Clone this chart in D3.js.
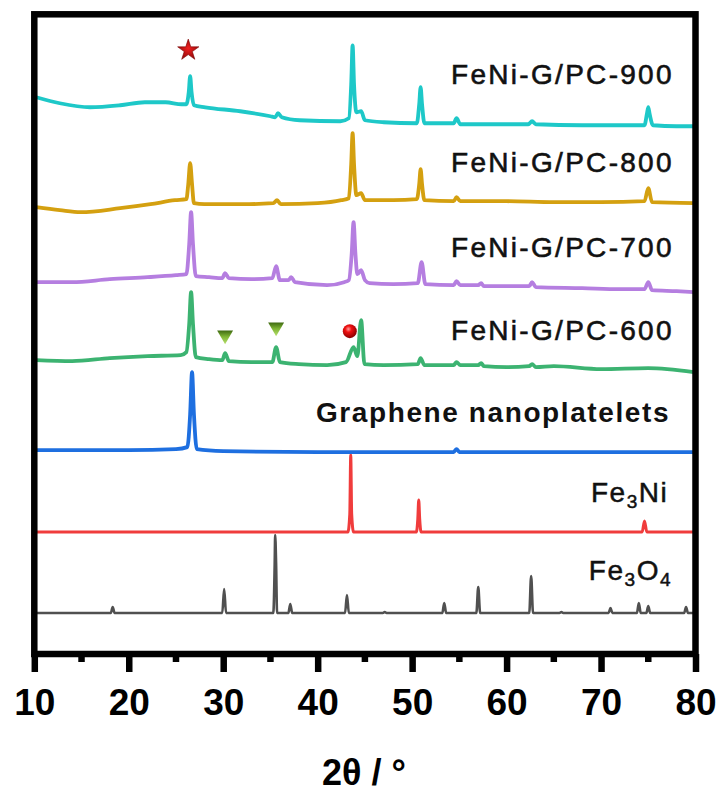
<!DOCTYPE html>
<html>
<head>
<meta charset="utf-8">
<script src="https://cdn.jsdelivr.net/npm/d3@7"></script>
<style>
  body { margin: 0; background: #fff; }
  svg { display: block; font-family: "Liberation Sans", Arial, sans-serif; }
</style>
</head>
<body>
<div id="xrd"></div>
<script>
// XRD patterns, stacked (2theta in degrees, intensity in a.u. incl. offset)
const fe3o4 = [[10.2,41],[18.1,41],[18.3,47],[18.5,41],[29.9,41],[30.1,65],[30.3,41],[35.3,41],[35.45,90],[35.5,119],[35.6,90],[35.7,41],
  [36.9,41],[37.1,50],[37.3,41],[42.9,41],[43.1,59],[43.3,41],[46.9,41],[47.1,42],[47.3,41],[53.2,41],[53.4,51],[53.6,41],
  [56.8,41],[57.0,67],[57.2,41],[62.4,41],[62.6,78],[62.8,41],[65.6,41],[65.8,42],[66.0,41],[70.8,41],[71.0,46],[71.2,41],
  [73.8,41],[74.0,51],[74.2,41],[74.8,41],[75.0,48],[75.2,41],[78.8,41],[79.0,47],[79.2,41],[79.8,41]]
const fe3ni = [[10.2,122],[43.2,122],[43.4,140],[43.5,199],[43.6,140],[43.8,122],[50.45,122],[50.6,135],[50.7,154],[50.8,135],[50.95,122],
  [74.35,122],[74.6,133],[74.85,122],[79.8,122]]
const graphene = [[10.2,204],[20,204],[25,205],[26.2,207],[26.5,240],[26.7,282],[26.9,240],[27.2,205],[30,203],[40,202],[50,202],
  [54.4,202],[54.7,205],[55.0,202],[65,202],[79.8,202]]
const pc600 = [[10.2,294],[14,293],[18,296],[22,298],[25.5,299],[26.1,302],[26.4,330],[26.6,362],[26.8,330],[27.1,297],[28.5,295],
  [29.9,294],[30.2,301],[30.6,293],[33,292],[35.2,292],[35.6,307],[36.0,292],[38,290],[41,289],[43.0,292],[43.8,307],[44.2,298],
  [44.6,334],[44.95,290],[47,289],[50.6,290],[50.9,296],[51.3,289],[54.4,289],[54.7,292],[55.1,289],[57.0,289],[57.3,291],[57.6,288],[60,287],
  [62.4,288],[62.7,290],[63.1,287],[65,288],[70,285],[75,286],[79.8,282]]
const pc700 = [[10.2,372],[14,372],[18,375],[22,377],[25,379],[26.1,380],[26.4,410],[26.6,442],[26.8,410],[27.1,378],[28.5,377],
  [29.9,376],[30.2,381],[30.6,376],[33,375],[35.2,376],[35.6,388],[36.0,374],[36.9,374],[37.2,377],[37.6,372],[41,369],
  [42.8,372],[43.3,374],[43.6,400],[43.8,432],[44.0,400],[44.2,380],[44.6,384],[45.0,374],[45.5,371],[48,370],[50.6,371],
  [51.0,392],[51.4,370],[54.4,369],[54.7,373],[55.1,369],[57.0,369],[57.3,371],[57.6,368],[60,368],[62.4,368],[62.7,372],
  [63.1,367],[68,366],[72,365],[74.6,365],[75.0,372],[75.4,364],[78,363],[79.8,362]]
const pc800 = [[10.2,447],[12.7,444],[14.9,442],[19.1,446],[22.3,450],[24.9,454],[26.1,455],[26.3,470],[26.5,491],[26.7,470],
  [26.9,451],[28,450],[32,450],[35.3,451],[35.7,454],[36.1,450],[40,451],[42.5,454],[43.3,456],[43.55,490],[43.7,521],[43.85,490],
  [44.1,459],[44.6,461],[45.0,454],[48,454],[50.5,455],[50.75,470],[50.9,485],[51.05,470],[51.3,454],[54.4,453],[54.7,457],
  [55.1,453],[60,453],[65,452],[70,452],[74.6,453],[75.0,466],[75.4,452],[79.8,451]]
const pc900 = [[10.2,557],[12.7,551],[15.9,547],[19.1,549],[21.7,552],[23.9,552],[25.6,550],[26.1,550],[26.35,562],[26.5,578],
  [26.65,562],[26.9,549],[28.1,547],[31.8,543],[35.0,538],[35.5,537],[35.8,541],[36.2,537],[38.1,534],[42.4,533],[43.3,536],
  [43.55,570],[43.7,609],[43.85,570],[44.1,542],[44.6,543],[45.0,534],[47,532],[50.5,531],[50.75,550],[50.9,567],[51.05,550],
  [51.3,531],[54.4,531],[54.7,536],[55.1,530],[58,530],[62.3,530],[62.7,533],[63.1,530],[68,529],[72,529],[74.6,529],
  [74.85,540],[75.0,547],[75.15,540],[75.5,529],[78,528],[79.8,528]]

const seriesData = [fe3o4, fe3ni, graphene, pc600, pc700, pc800, pc900]
const seriesColors = ["#505050", "#f03c3c", "#1e6fe0", "#3cb371", "#b57ee0", "#d4a010", "#1ec8c8"]
const seriesWidths = [2.6, 3, 3.8, 3.8, 3.8, 3.8, 3.8]

// labels: [text, 2theta of right end, a.u. of baseline, bold]
const labels = [
  ["FeNi-G/PC-900", 77.5, 570, false],
  ["FeNi-G/PC-800", 77.5, 482, false],
  ["FeNi-G/PC-700", 77.5, 397, false],
  ["FeNi-G/PC-600", 77.5, 314, false],
  ["Graphene nanoplatelets", 77.1, 232, true]
]
// phase markers [2theta, a.u.]
const starMarks = [[26.3, 604]]
const triMarks = [[30.2, 319], [35.6, 327]]
const ballMarks = [[43.4, 323]]

const majorTicks = [10, 20, 30, 40, 50, 60, 70, 80]
const minorTicks = [15, 25, 35, 45, 55, 65, 75]

const W = 720, H = 792
const pLeft = 34.3, pRight = 695.5, pTop = 14.3, pBottom = 654

let svg = d3.select("#xrd").append("svg")
  .attr("width", W).attr("height", H)

let defs = svg.append("defs")
let gBall = defs.append("radialGradient").attr("id", "ball")
  .attr("cx", "40%").attr("cy", "35%").attr("r", "65%")
gBall.append("stop").attr("offset", "0%").attr("stop-color", "#ff9a9a")
gBall.append("stop").attr("offset", "35%").attr("stop-color", "#f01010")
gBall.append("stop").attr("offset", "100%").attr("stop-color", "#8a0000")
let gTri = defs.append("linearGradient").attr("id", "tri")
  .attr("x1", 0).attr("y1", 0).attr("x2", 0).attr("y2", 1)
gTri.append("stop").attr("offset", "0%").attr("stop-color", "#b8e070")
gTri.append("stop").attr("offset", "55%").attr("stop-color", "#7fb534")
gTri.append("stop").attr("offset", "100%").attr("stop-color", "#3f6a12")
let gStar = defs.append("radialGradient").attr("id", "star")
  .attr("cx", "50%").attr("cy", "45%").attr("r", "60%")
gStar.append("stop").attr("offset", "0%").attr("stop-color", "#f02020")
gStar.append("stop").attr("offset", "100%").attr("stop-color", "#8c0808")

let x = d3.scaleLinear().domain([10, 80]).range([pLeft, pRight])
let y = d3.scaleLinear().domain([0, 640]).range([pBottom, pTop])

let line = d3.line()
  .curve(d3.curveMonotoneX)
  .x(d => x(d[0]))
  .y(d => y(d[1]))

svg.append("g")
  .selectAll("path")
  .data(seriesData)
  .join("path")
  .attr("d", line)
  .attr("fill", "none")
  .attr("stroke", (d, i) => seriesColors[i])
  .attr("stroke-width", (d, i) => seriesWidths[i])
  .attr("stroke-linejoin", "round")

// frame
svg.append("rect")
  .attr("x", pLeft).attr("y", pTop)
  .attr("width", pRight - pLeft).attr("height", pBottom - pTop)
  .attr("fill", "none").attr("stroke", "#000").attr("stroke-width", 6.5)

// x axis
let xAxis = svg.append("g")
  .attr("transform", "translate(0," + pBottom + ")")
  .call(d3.axisBottom(x).tickValues(majorTicks).tickSize(18).tickFormat(d3.format("d")))
xAxis.select(".domain").remove()
xAxis.selectAll(".tick line").attr("stroke", "#000").attr("stroke-width", 6.5)
xAxis.selectAll(".tick text")
  .attr("y", 61).attr("dy", 0)
  .attr("fill", "#000")
  .style("font-size", "37px").style("font-weight", "bold")
  .style("font-family", "'Liberation Sans', Arial, sans-serif")

svg.append("g")
  .attr("transform", "translate(0," + pBottom + ")")
  .selectAll("line")
  .data(minorTicks)
  .join("line")
  .attr("x1", d => x(d)).attr("x2", d => x(d))
  .attr("y1", 0).attr("y2", 8)
  .attr("stroke", "#000").attr("stroke-width", 6.5)

svg.append("text")
  .attr("x", 364).attr("y", 785)
  .attr("text-anchor", "middle")
  .style("font-size", "36px").style("font-weight", "bold")
  .text("2θ / °")

// sample labels
svg.append("g")
  .selectAll("text")
  .data(labels)
  .join("text")
  .attr("x", d => x(d[1]) + 2)
  .attr("y", d => y(d[2]))
  .attr("text-anchor", "end")
  .attr("fill", "#111")
  .attr("stroke", d => d[3] ? "none" : "#111")
  .attr("stroke-width", 0.6)
  .style("font-size", "28px")
  .style("font-weight", d => d[3] ? "bold" : "normal")
  .style("letter-spacing", d => d[3] ? "1.6px" : "2.3px")
  .text(d => d[0])

// reference phase labels with subscripts
let t1 = svg.append("text")
  .attr("x", x(76.9) + 2).attr("y", y(152))
  .attr("text-anchor", "end")
  .attr("fill", "#111").attr("stroke", "#111").attr("stroke-width", 0.5)
  .style("font-size", "28px").style("letter-spacing", "1.5px")
t1.append("tspan").text("Fe")
t1.append("tspan").attr("dy", 6).style("font-size", "19px").text("3")
t1.append("tspan").attr("dy", -6).text("Ni")

let t2 = svg.append("text")
  .attr("x", x(77.3) + 2).attr("y", y(74))
  .attr("text-anchor", "end")
  .attr("fill", "#111").attr("stroke", "#111").attr("stroke-width", 0.5)
  .style("font-size", "28px").style("letter-spacing", "1.5px")
t2.append("tspan").text("Fe")
t2.append("tspan").attr("dy", 6).style("font-size", "19px").text("3")
t2.append("tspan").attr("dy", -6).text("O")
t2.append("tspan").attr("dy", 6).style("font-size", "19px").text("4")

// markers
svg.append("g")
  .selectAll("path")
  .data(starMarks)
  .join("path")
  .attr("transform", d => "translate(" + x(d[0]) + "," + y(d[1]) + ")")
  .attr("d", d3.symbol(d3.symbolStar, 140))
  .attr("fill", "url(#star)")
  .attr("stroke", "#7a0000").attr("stroke-width", 0.6)

svg.append("g")
  .selectAll("path")
  .data(triMarks)
  .join("path")
  .attr("transform", d => "translate(" + x(d[0]) + "," + y(d[1]) + ") rotate(180)")
  .attr("d", d3.symbol(d3.symbolTriangle, 110))
  .attr("fill", "url(#tri)")

svg.append("g")
  .selectAll("circle")
  .data(ballMarks)
  .join("circle")
  .attr("cx", d => x(d[0])).attr("cy", d => y(d[1]))
  .attr("r", 7)
  .attr("fill", "url(#ball)")
</script>
</body>
</html>
